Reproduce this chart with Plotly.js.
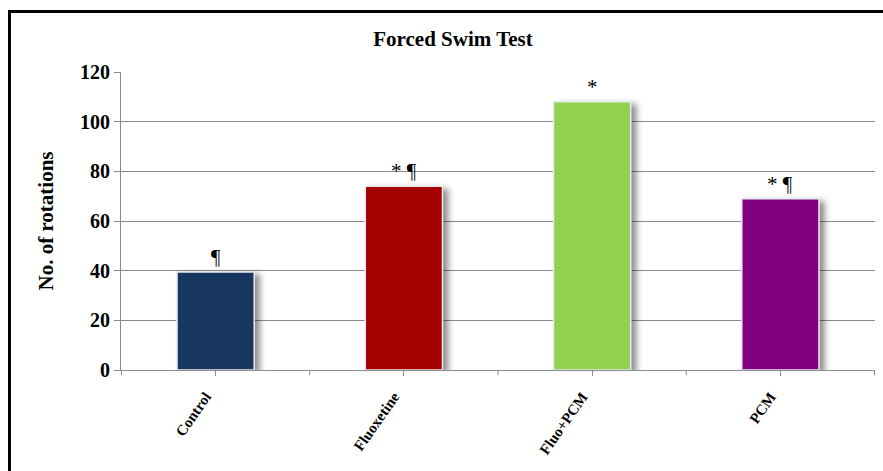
<!DOCTYPE html>
<html>
<head>
<meta charset="utf-8">
<script src="https://cdn.plot.ly/plotly-3.0.1.min.js"></script>
<style>
  html, body { margin: 0; padding: 0; background: #fff; }
  #wrap { position: relative; width: 883px; height: 471px; overflow: hidden; }
  #chart { position: absolute; left: 0; top: 0; width: 883px; height: 471px; }
  #frame { position: absolute; left: 8px; top: 10px; width: 900px; height: 500px;
           border-top: 3px solid #000; border-left: 3px solid #000; pointer-events: none; }
  .barlayer .point path { filter: drop-shadow(5px 3px 3px rgba(0,0,0,0.45)); }
</style>
</head>
<body>
<div id="wrap">
  <div id="chart"></div>
  <div id="frame"></div>
</div>
<script>
const categories = ["Control", "Fluoxetine", "Fluo+PCM", "PCM"];
const rotations = [39.5, 74, 108, 69];
const barColors = ["#17375E", "#A50000", "#92D050", "#800080"];
const marks = ["¶", "* ¶", "*", "* ¶"];
const yTicks = [0, 20, 40, 60, 80, 100, 120];

const serif = "Liberation Serif, Times New Roman, serif";

const trace = {
  type: "bar",
  x: categories,
  y: rotations,
  marker: { color: barColors, line: { color: "#E8ECF2", width: 1.5 } },
  hoverinfo: "skip"
};

const annotations = categories.map((c, i) => ({
  x: c, y: rotations[i], xref: "x", yref: "y",
  text: marks[i], showarrow: false, yanchor: "bottom", yshift: 1,
  font: { family: serif, size: 21, color: "#000" }
}));

const layout = {
  width: 883, height: 471,
  margin: { l: 121, r: 8, t: 72, b: 101 },
  paper_bgcolor: "#fff", plot_bgcolor: "#fff",
  bargap: 0.59,
  showlegend: false,
  title: {
    text: "<b>Forced Swim Test</b>",
    font: { family: serif, size: 21, color: "#000" },
    x: 0.513, xanchor: "center", yref: "container", y: 0.919, yanchor: "middle"
  },
  xaxis: {
    type: "category",
    showline: true, linecolor: "#8c8c8c", linewidth: 1,
    ticks: "outside", ticklen: 5, tickcolor: "#8c8c8c",
    tickangle: -55,
    ticklabelshift: -10,
    ticklabelstandoff: 6,
    tickfont: { family: serif, size: 15, color: "#000", weight: "bold" },
    showgrid: false, zeroline: false
  },
  yaxis: {
    range: [0, 120],
    tickvals: yTicks,
    ticktext: yTicks.map(String),
    showline: true, linecolor: "#8c8c8c", linewidth: 1,
    ticks: "outside", ticklen: 6, tickcolor: "#8c8c8c",
    showgrid: true, gridcolor: "#8c8c8c", gridwidth: 1,
    zeroline: false,
    tickfont: { family: serif, size: 20, color: "#000", weight: "bold" },
    title: {
      text: "<b>No. of rotations</b>",
      font: { family: serif, size: 21, color: "#000" },
      standoff: 20
    }
  },
  annotations: annotations,
  shapes: [-0.5, 0.5, 1.5, 2.5, 3.5].map(p => ({
    type: "line", xref: "x", yref: "paper", x0: p, x1: p, y0: 0, y1: -0.018,
    line: { color: "#8c8c8c", width: 1 }
  }))
};

Plotly.newPlot("chart", [trace], layout, { displayModeBar: false, staticPlot: true });
</script>
</body>
</html>
